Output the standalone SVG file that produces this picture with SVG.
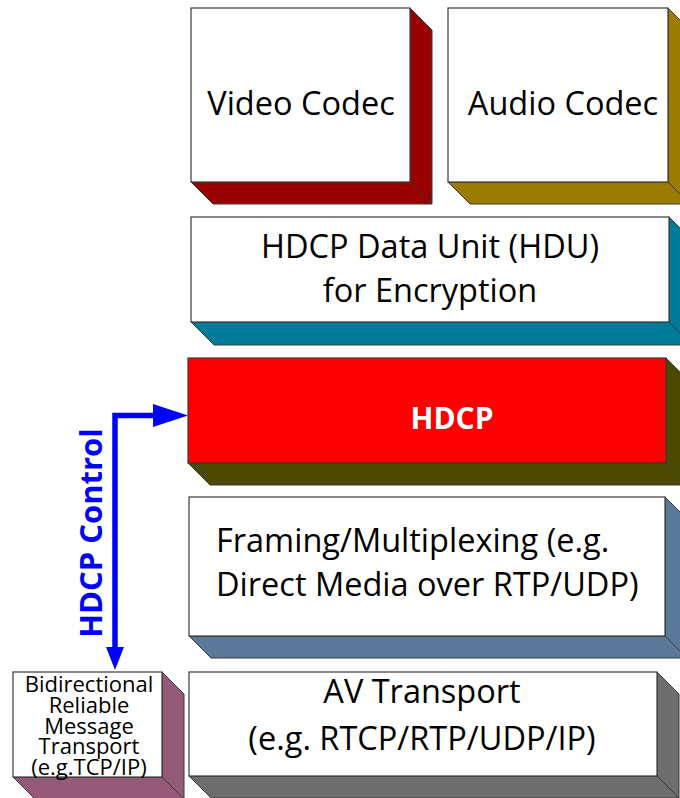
<svg xmlns="http://www.w3.org/2000/svg" width="680" height="798" viewBox="0 0 680 798">
  <style>
    .face { fill: #ffffff; stroke: #3a3a3a; stroke-width: 1.2; }
    .side { stroke: #3a3a3a; stroke-width: 1; stroke-linejoin: round; }
    .lbl { font-family: "Open Sans", "Liberation Sans", sans-serif; font-size: 32.5px; fill: #000000; }
    .small { font-family: "Open Sans", "Liberation Sans", sans-serif; font-size: 22px; fill: #000000; }
    .bold { font-family: "Open Sans", "Liberation Sans", sans-serif; font-weight: bold; }
    .wire { fill: none; stroke: #0000ff; stroke-width: 5.5; }
    .head { fill: #0000ff; }
  </style>

  <rect x="0" y="0" width="680" height="798" fill="#ffffff"/>

  <!-- Video codec -->
  <g id="video-codec">
    <polygon class="side" fill="#990000" points="191,182 410,182 432,204 213,204"/>
    <polygon class="side" fill="#990000" points="410,8 432,30 432,204 410,182"/>
    <rect class="face" x="191" y="8" width="219" height="174"/>
    <text class="lbl" x="301" y="115" text-anchor="middle">Video Codec</text>
  </g>

  <!-- Audio codec -->
  <g id="audio-codec">
    <polygon class="side" fill="#9b7b00" points="448,182 668,182 690,204 470,204"/>
    <polygon class="side" fill="#9b7b00" points="668,8 690,30 690,204 668,182"/>
    <rect class="face" x="448" y="8" width="220" height="174"/>
    <text class="lbl" x="563" y="115" text-anchor="middle">Audio Codec</text>
  </g>

  <!-- HDCP data unit -->
  <g id="hdu">
    <polygon class="side" fill="#007a99" points="191,322 669,322 692,345 214,345"/>
    <polygon class="side" fill="#007a99" points="669,217 692,240 692,345 669,322"/>
    <rect class="face" x="191" y="217" width="478" height="105"/>
    <text class="lbl" x="430" y="258" text-anchor="middle">HDCP Data Unit (HDU)</text>
    <text class="lbl" x="430" y="302" text-anchor="middle">for Encryption</text>
  </g>

  <!-- HDCP -->
  <g id="hdcp">
    <polygon class="side" fill="#4b4a00" points="188,463 666,463 688,485 210,485"/>
    <polygon class="side" fill="#4b4a00" points="666,358 688,380 688,485 666,463"/>
    <rect x="188" y="358" width="478" height="105" fill="#ff0000" stroke="#3a3a3a" stroke-width="1.2"/>
    <text class="bold" x="452" y="429" font-size="30" fill="#ffffff" text-anchor="middle">HDCP</text>
  </g>

  <!-- Framing / multiplexing -->
  <g id="framing">
    <polygon class="side" fill="#5a7898" points="189,636 665,636 687,658 211,658"/>
    <polygon class="side" fill="#5a7898" points="665,497 687,519 687,658 665,636"/>
    <rect class="face" x="189" y="497" width="476" height="139"/>
    <text class="lbl" x="216" y="552">Framing/Multiplexing (e.g.</text>
    <text class="lbl" x="216" y="596">Direct Media over RTP/UDP)</text>
  </g>

  <!-- AV transport -->
  <g id="av-transport">
    <polygon class="side" fill="#6e6e6e" points="189,776 657,776 679,798 211,798"/>
    <polygon class="side" fill="#6e6e6e" points="657,672 679,694 679,798 657,776"/>
    <rect class="face" x="189" y="672" width="468" height="104"/>
    <text class="lbl" x="422" y="703" text-anchor="middle">AV Transport</text>
    <text class="lbl" x="422" y="750" text-anchor="middle">(e.g. RTCP/RTP/UDP/IP)</text>
  </g>

  <!-- Bidirectional reliable message transport -->
  <g id="message-transport">
    <polygon class="side" fill="#955a78" points="13,777 162,777 184,799 35,799"/>
    <polygon class="side" fill="#955a78" points="162,672 184,694 184,799 162,777"/>
    <rect class="face" x="13" y="672" width="149" height="105"/>
    <text class="small" x="89" y="692" text-anchor="middle">Bidirectional</text>
    <text class="small" x="89" y="713" text-anchor="middle">Reliable</text>
    <text class="small" x="89" y="734" text-anchor="middle">Message</text>
    <text class="small" x="89" y="754" text-anchor="middle">Transport</text>
    <text class="small" x="89" y="775" text-anchor="middle">(e.g.TCP/IP)</text>
  </g>

  <!-- HDCP control channel -->
  <g id="connectors">
    <path class="wire" d="M115,648 V415.5 H155"/>
    <polygon class="head" points="153,404 188,415.5 153,427"/>
    <polygon class="head" points="106,647 124,647 115,670"/>
    <text class="bold" font-size="31" fill="#0000ff" text-anchor="middle" transform="translate(102,533) rotate(-90)">HDCP Control</text>
  </g>
</svg>
